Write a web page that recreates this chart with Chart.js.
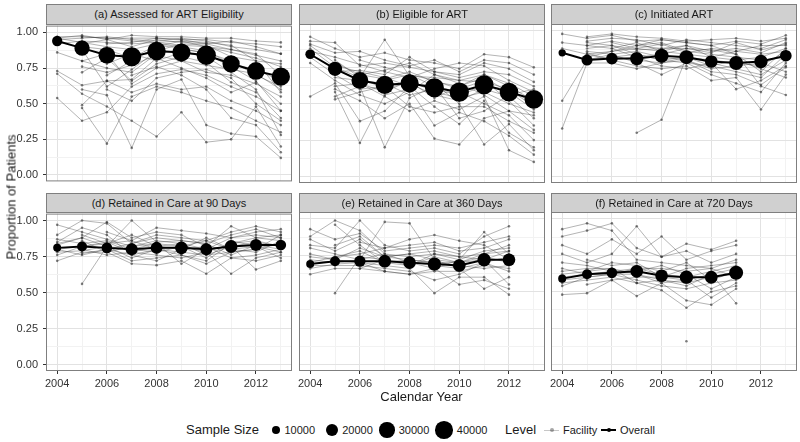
<!DOCTYPE html>
<html>
<head>
<meta charset="utf-8">
<script src="https://cdn.jsdelivr.net/npm/chart.js@4/dist/chart.umd.min.js"></script>
<style>
  body { margin: 0; width: 800px; height: 442px; background: #fff; position: relative; overflow: hidden;
         font-family: "Liberation Sans", Arial, sans-serif; color: #1a1a1a; }
  canvas { position: absolute; }
  .strip { position: absolute; background: #d0d0d0; border: 1px solid #7f7f7f; box-sizing: border-box;
           font-size: 11px; text-align: center; z-index: 2; white-space: nowrap; }
  .txt { position: absolute; white-space: nowrap; color: #1a1a1a; z-index: 3; }
  .dot { position: absolute; background: #000; border-radius: 50%; }
</style>
</head>
<body>
<script>
const years = [2004, 2005, 2006, 2007, 2008, 2009, 2010, 2011, 2012, 2013];

const titles = [
  "(a) Assessed for ART Eligibility",
  "(b) Eligible for ART",
  "(c) Initiated ART",
  "(d) Retained in Care at 90 Days",
  "(e) Retained in Care at 360 Days",
  "(f) Retained in Care at 720 Days"
];

// overall proportion per year
const overallA = [0.94, 0.89, 0.84, 0.83, 0.87, 0.86, 0.84, 0.78, 0.73, 0.69];
const overallB = [0.84, 0.74, 0.66, 0.63, 0.64, 0.61, 0.58, 0.63, 0.58, 0.53];
const overallC = [0.85, 0.80, 0.81, 0.81, 0.83, 0.82, 0.79, 0.78, 0.79, 0.83];
const overallD = [0.81, 0.82, 0.81, 0.80, 0.81, 0.81, 0.80, 0.82, 0.83, 0.83];
const overallE = [0.69, 0.71, 0.71, 0.71, 0.70, 0.69, 0.68, 0.72, 0.72];
const overallF = [0.59, 0.62, 0.63, 0.64, 0.61, 0.60, 0.60, 0.63];

// overall sample size per year
const sizeA = [13500, 30000, 35500, 46000, 43000, 41500, 47500, 38000, 40000, 43000];
const sizeB = [12000, 26000, 36000, 42000, 42000, 46000, 48000, 46000, 44000, 44000];
const sizeC = [6800, 15500, 17400, 22700, 25000, 25000, 20500, 25000, 22700, 17400];
const sizeD = [8200, 12800, 14500, 18400, 18400, 20500, 18400, 20500, 18400, 14500];
const sizeE = [8200, 12800, 16400, 20500, 20500, 22700, 20500, 22700, 20500];
const sizeF = [8200, 12800, 14500, 20500, 20500, 22700, 20500, 25000];

// facility level proportions
const facilityA = [
  [0.97, 0.97, 0.96, 0.96, 0.96, 0.95, 0.95, 0.93, 0.92, 0.90],
  [0.95, 0.96, 0.97, 0.95, 0.94, 0.96, 0.94, 0.90, 0.88, 0.85],
  [0.92, 0.94, 0.93, 0.92, 0.93, 0.91, 0.90, 0.86, 0.82, 0.76],
  [0.96, 0.98, 0.95, 0.90, 0.95, 0.93, 0.92, 0.88, 0.85, 0.70],
  [0.86, 0.80, 0.75, 0.72, 0.85, 0.88, 0.86, 0.80, 0.70, 0.62],
  [0.73, 0.63, 0.66, 0.58, 0.64, 0.60, 0.62, 0.52, 0.45, 0.35],
  [0.71, 0.57, 0.48, 0.38, 0.27, 0.44, 0.23, 0.25, 0.48, 0.20],
  [0.54, 0.38, 0.44, 0.62, 0.71, 0.74, 0.70, 0.62, 0.55, 0.45],
  [null, 0.47, 0.22, 0.55, 0.62, 0.58, 0.52, 0.47, 0.38, 0.30],
  [null, 0.72, 0.82, 0.66, 0.78, 0.83, 0.79, 0.65, 0.58, 0.40],
  [null, 0.60, 0.56, 0.19, 0.60, 0.67, 0.35, 0.29, 0.27, 0.12],
  [0.96, 0.93, 0.90, 0.88, 0.92, 0.90, 0.87, 0.78, 0.74, 0.66],
  [null, 0.88, 0.62, 0.74, 0.87, 0.92, 0.91, 0.83, 0.80, 0.78],
  [null, null, 0.70, 0.80, 0.90, 0.94, 0.93, 0.91, 0.80, 0.58],
  [null, 0.92, 0.95, 0.98, 0.97, 0.97, 0.96, 0.96, 0.94, 0.93],
  [null, 0.49, 0.66, 0.67, 0.82, 0.75, 0.68, 0.58, 0.65, 0.50],
  [null, null, 0.78, 0.85, 0.80, 0.86, 0.83, 0.72, 0.60, 0.28],
  [null, 0.80, 0.85, 0.64, 0.75, 0.80, 0.72, 0.70, 0.64, 0.55],
  [null, null, 0.92, 0.93, 0.96, 0.95, 0.92, 0.94, 0.90, 0.85],
  [null, 0.90, 0.88, 0.82, 0.91, 0.89, 0.85, 0.76, 0.66, 0.45],
  [null, null, null, 0.70, 0.76, 0.70, 0.60, 0.40, 0.35, 0.16],
  [null, 0.97, 0.96, 0.94, 0.93, 0.94, 0.90, 0.88, 0.84, 0.80],
  [null, null, 0.60, 0.52, 0.68, 0.72, 0.74, 0.68, 0.50, 0.38],
  [null, 0.76, 0.72, 0.77, 0.84, 0.80, 0.77, 0.74, 0.71, 0.60]
];
const facilityB = [
  [0.96, 0.88, 0.82, 0.85, 0.80, 0.78, 0.74, 0.84, 0.82, 0.75],
  [0.93, 0.92, 0.76, 0.78, 0.75, 0.72, 0.70, 0.78, 0.74, 0.65],
  [0.90, 0.78, 0.70, 0.67, 0.72, 0.65, 0.62, 0.70, 0.64, 0.55],
  [0.88, 0.75, 0.68, 0.94, 0.69, 0.68, 0.66, 0.65, 0.60, 0.50],
  [0.82, 0.70, 0.60, 0.62, 0.64, 0.56, 0.52, 0.60, 0.55, 0.40],
  [0.78, 0.66, 0.56, 0.50, 0.58, 0.70, 0.64, 0.56, 0.45, 0.32],
  [0.55, 0.64, 0.38, 0.45, 0.62, 0.48, 0.36, 0.52, 0.30, 0.20],
  [null, 0.58, 0.23, 0.56, 0.60, 0.35, 0.44, 0.38, 0.28, 0.15],
  [null, 0.55, 0.62, 0.20, 0.54, 0.62, 0.58, 0.50, 0.42, 0.25],
  [null, 0.72, 0.73, 0.70, 0.82, 0.72, 0.68, 0.72, 0.70, 0.62],
  [0.86, 0.82, 0.77, 0.72, 0.68, 0.74, 0.78, 0.76, 0.66, 0.58],
  [null, 0.53, 0.58, 0.62, 0.48, 0.44, 0.48, 0.48, 0.38, 0.30],
  [null, 0.68, 0.66, 0.64, 0.56, 0.60, 0.56, 0.62, 0.60, 0.48],
  [null, null, 0.80, 0.75, 0.70, 0.66, 0.60, 0.66, 0.52, 0.35],
  [0.91, 0.85, 0.86, 0.80, 0.76, 0.80, 0.72, 0.80, 0.78, 0.70],
  [null, 0.60, 0.52, 0.40, 0.50, 0.26, 0.22, 0.40, 0.45, 0.42],
  [null, null, 0.64, 0.58, 0.66, 0.58, 0.54, 0.58, 0.50, 0.44],
  [null, 0.76, 0.72, 0.68, 0.62, 0.64, 0.50, 0.22, 0.36, 0.18],
  [null, null, 0.70, 0.73, 0.78, 0.70, 0.66, 0.70, 0.62, 0.52],
  [null, 0.62, 0.64, 0.55, 0.45, 0.52, 0.46, 0.55, 0.18, 0.10],
  [null, null, null, 0.66, 0.70, 0.62, 0.40, 0.45, 0.56, 0.60],
  [null, 0.80, 0.68, 0.60, 0.65, 0.54, 0.62, 0.68, 0.58, 0.46]
];
const facilityC = [
  [0.98, 0.95, 0.97, 0.93, 0.94, 0.92, 0.90, 0.93, 0.91, 0.97],
  [0.92, 0.90, 0.93, 0.90, 0.88, 0.90, 0.86, 0.88, 0.85, 0.92],
  [0.88, 0.84, 0.86, 0.88, 0.86, 0.84, 0.82, 0.80, 0.82, 0.88],
  [0.52, 0.80, 0.82, 0.80, 0.78, 0.82, 0.78, 0.74, 0.70, 0.80],
  [0.33, 0.78, 0.78, 0.74, 0.78, 0.80, 0.72, 0.70, 0.63, 0.75],
  [null, 0.96, 0.98, 0.96, 0.95, 0.93, 0.94, 0.95, 0.93, 0.95],
  [null, 0.88, 0.90, 0.84, 0.80, 0.78, 0.76, 0.72, 0.68, 0.84],
  [null, null, null, 0.30, 0.39, 0.82, 0.80, 0.78, 0.76, 0.86],
  [null, 0.82, 0.86, 0.90, 0.92, 0.86, 0.84, 0.82, 0.80, 0.82],
  [null, 0.85, 0.80, 0.76, 0.74, 0.76, 0.66, 0.68, 0.46, 0.70],
  [null, 0.93, 0.95, 0.94, 0.90, 0.94, 0.92, 0.90, 0.88, 0.94],
  [null, null, 0.88, 0.82, 0.84, 0.88, 0.87, 0.84, 0.62, 0.56],
  [null, 0.80, 0.84, 0.86, 0.82, 0.80, 0.74, 0.76, 0.78, 0.72],
  [null, null, 0.92, 0.88, 0.91, 0.85, 0.88, 0.86, 0.90, 0.90],
  [null, 0.86, 0.84, 0.78, 0.70, 0.78, 0.70, 0.64, 0.58, 0.78],
  [null, 0.90, 0.88, 0.92, 0.86, 0.90, 0.82, 0.86, 0.84, 0.86],
  [null, null, 0.82, 0.84, 0.80, 0.82, 0.76, 0.80, 0.74, 0.68],
  [null, 0.92, 0.90, 0.87, 0.88, 0.88, 0.85, 0.92, 0.87, 0.91],
  [null, null, null, 0.90, 0.94, 0.92, 0.90, 0.84, 0.72, 0.88],
  [null, 0.84, 0.80, 0.82, 0.76, 0.74, 0.78, 0.60, 0.66, 0.76]
];
const facilityD = [
  [0.97, 0.92, 0.87, 0.82, 0.86, 0.84, 0.80, 0.88, 0.90, 0.88],
  [0.90, 1.00, 0.98, 0.84, 0.90, 0.88, 0.86, 0.92, 0.96, 0.92],
  [0.85, 0.95, 0.90, 0.76, 0.80, 0.82, 0.78, 0.84, 0.86, 0.82],
  [0.80, 0.76, 0.80, 0.72, 0.74, 0.76, 0.70, 0.78, 0.80, 0.84],
  [0.76, 0.82, 0.84, 0.90, 0.82, 0.80, 0.88, 0.80, 0.78, 0.86],
  [0.72, 0.78, 0.78, 0.70, 0.69, 0.72, 0.63, 0.74, 0.72, 0.76],
  [null, 0.56, 0.82, 1.00, 0.85, 0.86, 0.84, 0.76, 0.83, 0.80],
  [0.83, 0.88, 0.99, 0.88, 0.92, 0.90, 0.82, 0.96, 0.88, 0.90],
  [null, 0.80, 0.76, 0.78, 0.76, 0.74, 0.78, 0.63, 0.74, 0.78],
  [0.87, 0.84, 0.86, 0.80, 0.78, 0.82, 0.74, 0.86, 0.82, 0.74],
  [null, 0.90, 0.84, 0.86, 0.95, 0.93, 0.91, 0.88, 0.92, 0.94],
  [0.78, 0.79, 0.82, 0.74, 0.80, 0.78, 0.76, 0.82, 0.66, 0.72],
  [null, null, 0.80, 0.84, 0.88, 0.86, 0.84, 0.90, 0.94, 0.88],
  [null, 0.86, 0.78, 0.82, 0.84, 0.70, 0.80, 0.82, 0.85, 0.82],
  [0.80, 0.82, 0.85, 0.78, 0.82, 0.84, 0.76, 0.78, 0.80, 0.90],
  [null, 0.77, 0.80, 0.76, 0.72, 0.80, 0.82, 0.74, 0.76, 0.80],
  [null, null, 0.92, 0.86, 0.80, 0.76, 0.72, 0.84, 0.88, 0.86],
  [0.84, 0.88, 0.82, 0.80, 0.84, 0.82, 0.86, 0.80, 0.82, 0.78]
];
const facilityE = [
  [0.93, 0.86, 0.90, 0.78, 0.80, 0.82, 0.80, 0.84, 0.88],
  [0.88, 0.99, 0.92, 0.76, 0.74, 0.76, 0.72, 0.78, 0.80],
  [0.82, 0.80, 0.99, 0.82, 0.78, 0.80, 0.76, 0.88, 0.95],
  [0.76, 0.72, 0.80, 0.74, 0.72, 0.70, 0.70, 0.72, 0.78],
  [0.72, 0.70, 0.72, 0.98, 0.97, 0.72, 0.66, 0.70, 0.74],
  [0.68, 0.68, 0.68, 0.66, 0.64, 0.58, 0.62, 0.70, 0.64],
  [0.66, 0.69, 0.70, 0.68, 0.66, 0.49, 0.60, 0.60, 0.48],
  [0.62, 0.66, 0.66, 0.64, 0.62, 0.66, 0.55, 0.58, 0.52],
  [null, 0.49, 0.74, 0.72, 0.70, 0.68, 0.66, 0.52, 0.60],
  [0.86, 0.78, 0.86, 0.74, 0.76, 0.78, 0.74, 0.76, 0.82],
  [null, 0.96, 0.82, 0.70, 0.68, 0.74, 0.70, 0.74, 0.70],
  [0.70, 0.74, 0.76, 0.80, 0.82, 0.84, 0.78, 0.80, 0.86],
  [null, 0.74, 0.78, 0.70, 0.72, 0.70, 0.68, 0.66, 0.68],
  [0.80, 0.76, 0.72, 0.76, 0.70, 0.66, 0.72, 0.91, 0.76],
  [null, null, 0.84, 0.80, 0.86, 0.89, 0.85, 0.82, 0.72],
  [0.74, 0.72, 0.70, 0.64, 0.62, 0.64, 0.64, 0.68, 0.66],
  [null, 0.82, 0.88, 0.74, 0.76, 0.72, 0.70, 0.76, 0.78],
  [null, null, 0.66, 0.72, 0.68, 0.76, 0.74, 0.72, 0.55]
];
const facilityF = [
  [0.93, 0.97, 0.92, 0.72, 0.70, 0.68, 0.66, 0.72],
  [0.88, 0.92, 0.97, 0.80, 0.74, 0.78, 0.70, 0.76],
  [0.82, 0.76, 0.86, 0.76, 0.88, 0.72, 0.78, 0.82],
  [0.76, 0.70, 0.76, 0.95, 0.74, 0.83, 0.79, 0.85],
  [0.70, 0.68, 0.64, 0.66, 0.62, 0.60, 0.64, 0.68],
  [0.64, 0.66, 0.66, 0.62, 0.58, 0.56, 0.60, 0.62],
  [0.60, 0.62, 0.62, 0.58, 0.54, 0.52, 0.56, 0.58],
  [0.56, 0.58, 0.60, 0.56, 0.51, 0.39, 0.50, 0.54],
  [0.48, 0.49, 0.58, 0.47, 0.56, 0.44, 0.41, 0.52],
  [0.58, 0.60, 0.62, 0.66, 0.66, 0.64, 0.66, 0.60],
  [null, 0.72, 0.68, 0.70, 0.60, 0.58, 0.62, 0.42],
  [0.62, 0.64, 0.70, 0.68, 0.64, 0.70, 0.58, 0.64],
  [null, 0.55, 0.58, 0.60, 0.60, 0.66, 0.68, 0.70],
  [0.66, 0.62, 0.64, 0.64, 0.68, 0.62, 0.52, 0.60],
  [null, 0.64, 0.66, 0.56, 0.58, 0.54, 0.62, 0.66],
  [0.54, 0.60, 0.62, 0.62, 0.56, 0.58, 0.46, 0.56],
  [null, null, null, null, null, 0.16, null, null]
];

const legendSizes = [10000, 20000, 30000, 40000];

const overall = [overallA, overallB, overallC, overallD, overallE, overallF];
const sizes = [sizeA, sizeB, sizeC, sizeD, sizeE, sizeF];
const facilities = [facilityA, facilityB, facilityC, facilityD, facilityE, facilityF];

const FONT = "'Liberation Sans', Arial, sans-serif";
const colLeft = [46, 299, 551];
const rowTop = [24, 212];
const W = 246, H = 159;
const radius = n => 8.85 * Math.sqrt(n / 40000);
const yTicks = [0, 0.125, 0.25, 0.375, 0.5, 0.625, 0.75, 0.875, 1];
const isMajorX = v => (v - 2004) % 2 === 0;
const isMajorY = v => Math.abs(v * 4 - Math.round(v * 4)) < 1e-6;

const frame = {
  id: 'frame',
  afterDraw(chart) {
    const { ctx, chartArea: a } = chart;
    ctx.save();
    ctx.strokeStyle = '#7f7f7f';
    ctx.lineWidth = 1;
    ctx.strokeRect(a.left + 0.5, a.top + 0.5, a.width - 1, a.height - 1);
    ctx.restore();
  }
};

function addText(text, left, top, size, extra) {
  const d = document.createElement('div');
  d.className = 'txt';
  d.textContent = text;
  d.style.left = left + 'px';
  d.style.top = top + 'px';
  d.style.fontSize = size + 'px';
  if (extra) Object.assign(d.style, extra);
  document.body.appendChild(d);
  return d;
}

titles.forEach((title, i) => {
  const r = Math.floor(i / 3), c = i % 3;
  const padL = c === 0 ? 46 : 10;
  const padB = r === 1 ? 24 : 10;

  const cv = document.createElement('canvas');
  cv.width = padL + W + 10;
  cv.height = 10 + H + padB;
  cv.style.left = (colLeft[c] - padL) + 'px';
  cv.style.top = (rowTop[r] - 10) + 'px';
  document.body.appendChild(cv);

  const strip = document.createElement('div');
  strip.className = 'strip';
  strip.textContent = title;
  const sh = r === 0 ? 21 : 20;
  strip.style.left = colLeft[c] + 'px';
  strip.style.top = (rowTop[r] - sh + 1) + 'px';
  strip.style.width = W + 'px';
  strip.style.height = sh + 'px';
  strip.style.lineHeight = (sh - 2) + 'px';
  document.body.appendChild(strip);

  const datasets = facilities[i].map(f => ({
    data: years.map((y, k) => ({ x: y, y: f[k] ?? null })),
    borderColor: 'rgba(55,55,55,0.42)',
    borderWidth: 0.9,
    pointRadius: 1.3,
    pointBackgroundColor: 'rgba(45,45,45,0.6)',
    pointBorderWidth: 0,
    order: 2
  }));
  datasets.push({
    data: years.map((y, k) => ({ x: y, y: overall[i][k] ?? null })),
    borderColor: '#000',
    borderWidth: 2,
    pointRadius: years.map((y, k) => sizes[i][k] ? radius(sizes[i][k]) : 0),
    pointBackgroundColor: '#000',
    pointBorderWidth: 0,
    order: 0
  });

  new Chart(cv, {
    type: 'line',
    data: { datasets },
    options: {
      responsive: false,
      animation: false,
      events: [],
      layout: { padding: { left: c === 0 ? 0 : 10, right: 10, top: 10, bottom: r === 1 ? 0 : 10 } },
      plugins: { legend: { display: false }, tooltip: { enabled: false } },
      scales: {
        x: {
          type: 'linear', min: 2003.55, max: 2013.45,
          afterBuildTicks: s => { s.ticks = years.map(v => ({ value: v })); },
          afterFit: s => { s.height = r === 1 ? 24 : 0; },
          border: { display: false },
          grid: {
            color: ctx => isMajorX(ctx.tick.value) ? '#e2e2e2' : '#f2f2f2',
            lineWidth: 1,
            drawTicks: r === 1,
            tickLength: 3,
            tickColor: ctx => isMajorX(ctx.tick.value) ? '#333' : 'rgba(0,0,0,0)'
          },
          ticks: {
            display: r === 1, autoSkip: false, maxRotation: 0, padding: 3,
            color: '#333', font: { size: 11, family: FONT },
            callback: v => isMajorX(v) ? String(v) : ''
          }
        },
        y: {
          min: -0.045, max: 1.048,
          afterBuildTicks: s => { s.ticks = yTicks.map(v => ({ value: v })); },
          afterFit: s => { s.width = c === 0 ? 46 : 0; },
          border: { display: false },
          grid: {
            color: ctx => isMajorY(ctx.tick.value) ? '#e2e2e2' : '#f2f2f2',
            lineWidth: 1,
            drawTicks: c === 0,
            tickLength: 3,
            tickColor: ctx => isMajorY(ctx.tick.value) ? '#333' : 'rgba(0,0,0,0)'
          },
          ticks: {
            display: c === 0, autoSkip: false, padding: 5,
            color: '#333', font: { size: 11, family: FONT },
            callback: v => isMajorY(v) ? v.toFixed(2) : ''
          }
        }
      }
    },
    plugins: [frame]
  });
});

// axis titles
addText('Calendar Year', 421.5, 389, 13, { transform: 'translateX(-50%)' });
addText('Proportion of Patients', 11, 197, 13, { transform: 'translate(-50%,-50%) rotate(-90deg)' });

// legend
const LY = 430;
addText('Sample Size', 186, LY - 8, 13);
const legendX = [276, 332, 387, 444];
legendSizes.forEach((n, k) => {
  const rr = radius(n);
  const d = document.createElement('div');
  d.className = 'dot';
  d.style.left = (legendX[k] - rr) + 'px';
  d.style.top = (LY - rr) + 'px';
  d.style.width = d.style.height = (2 * rr) + 'px';
  document.body.appendChild(d);
  addText(String(n), legendX[k] + rr + 4, LY - 6.5, 11);
});
addText('Level', 505, LY - 8, 13);

function levelKey(x, color, width, dotColor, label) {
  const l = document.createElement('div');
  l.style.cssText = `position:absolute;left:${x}px;top:${LY - width / 2}px;width:15px;height:${width}px;background:${color}`;
  document.body.appendChild(l);
  const d = document.createElement('div');
  d.className = 'dot';
  d.style.cssText += `left:${x + 5.5}px;top:${LY - 2}px;width:4px;height:4px;background:${dotColor}`;
  document.body.appendChild(d);
  addText(label, x + 19, LY - 6.5, 11);
}
levelKey(544, 'rgba(70,70,70,0.3)', 1, 'rgba(60,60,60,0.45)', 'Facility');
levelKey(601, '#000', 2, '#000', 'Overall');
</script>
</body>
</html>
